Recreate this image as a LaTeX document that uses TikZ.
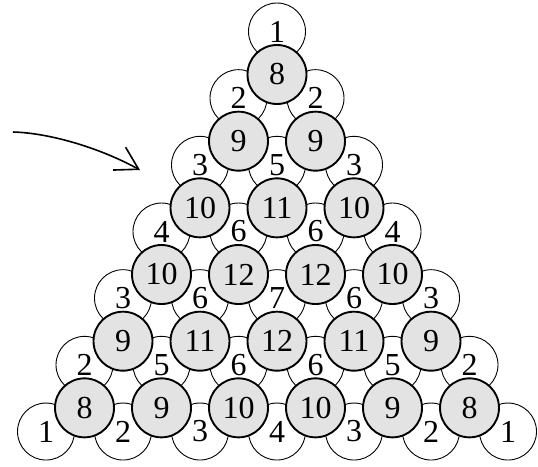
\documentclass[tikz,border=0pt]{standalone}
\usepackage{fontspec}
\setmainfont{Liberation Serif}
\usetikzlibrary{arrows.meta}
\begin{document}
\begin{tikzpicture}[x=1pt,y=-1pt,
  wcirc/.style={circle,draw=black,line width=0.9pt,fill=white,minimum size=57pt,inner sep=0pt,
    font=\fontsize{32}{32}\selectfont},
  scirc/.style={circle,draw=black,line width=1.9pt,fill=gray!22,minimum size=59pt,inner sep=0pt,
    font=\fontsize{32}{32}\selectfont},
  arr/.style={line width=1.6pt,-{Straight Barb[length=22pt,width=26pt,line width=1.6pt]}}]
\useasboundingbox (0,0) rectangle (538,466);
% white (plain) circles
\foreach \r [count=\k from 0] in {{1},{2,2},{3,5,3},{4,6,6,4},{3,6,7,6,3},{2,5,6,6,5,2},{1,2,3,4,3,2,1}}{
  \foreach \v [count=\i from 0] in \r {
    \node[wcirc] (w-\k-\i) at ({277+77*(\i-\k/2)},{31.5+66.67*\k}) {\v};
  }
}
% shaded circles
\foreach \r [count=\k from 0] in {{8},{9,9},{10,11,10},{10,12,12,10},{9,11,12,11,9},{8,9,10,10,9,8}}{
  \foreach \v [count=\i from 0] in \r {
    \node[scirc] (s-\k-\i) at ({277+77*(\i-\k/2)},{74.5+66.67*\k}) {\v};
  }
}
% arrow
\coordinate (as) at (13,132);
\coordinate (ae) at (140,170);
\draw[arr] (as) .. controls (50,133) and (100,148) .. (ae);
\end{tikzpicture}
\end{document}
